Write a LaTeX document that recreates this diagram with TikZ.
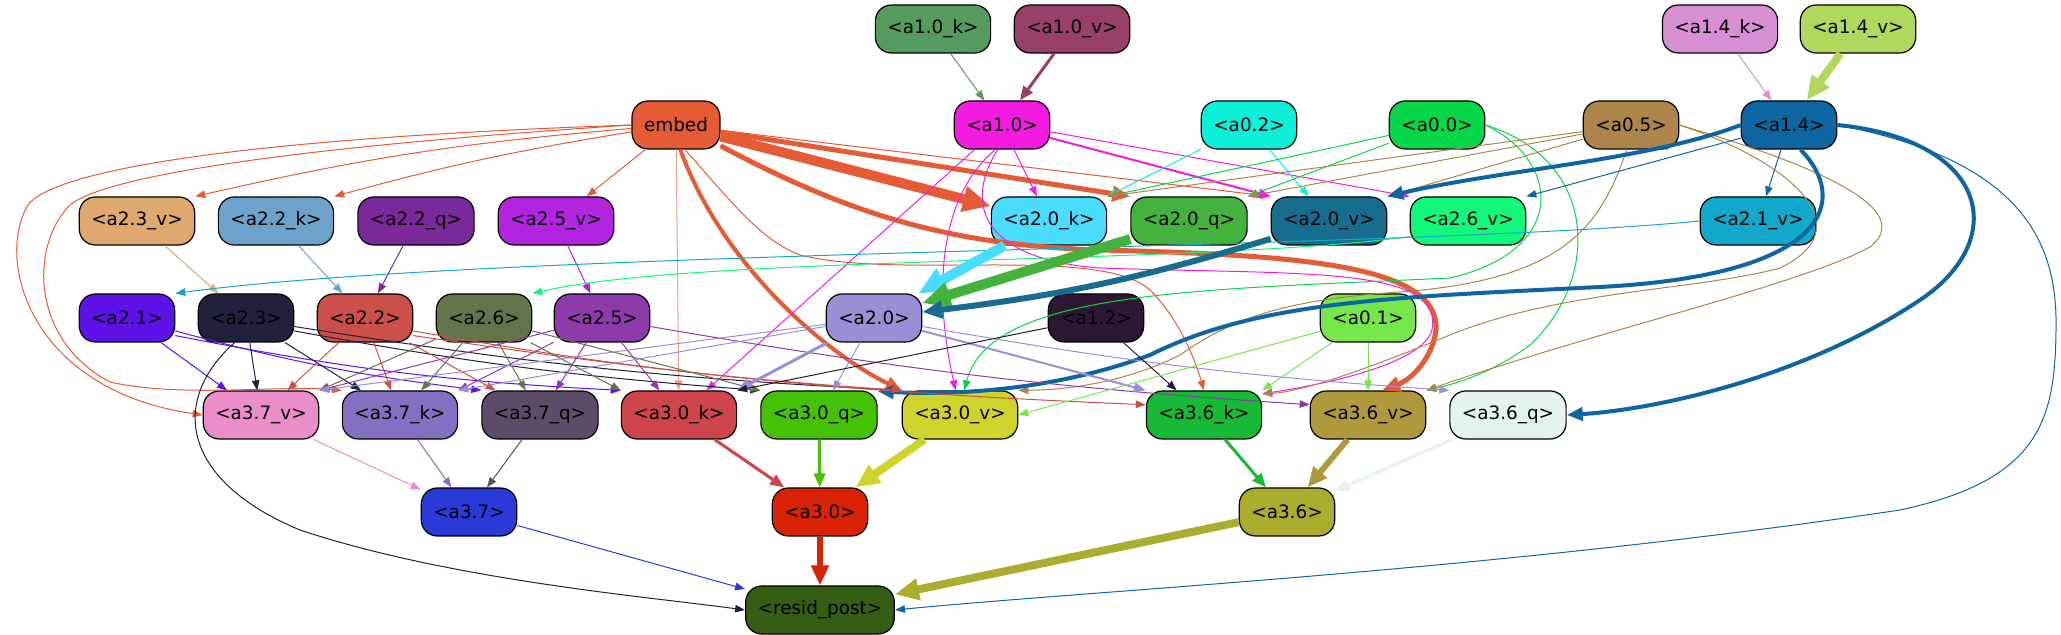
\documentclass[tikz,border=0pt]{standalone}
\usepackage{fontspec}
\setmainfont{DejaVu Sans}
\usetikzlibrary{arrows.meta}
\definecolor{cemb}{HTML}{E55B35}
\definecolor{c10k}{HTML}{559A5F}
\definecolor{c10v}{HTML}{98406A}
\definecolor{c10}{HTML}{F41BE0}
\definecolor{c02}{HTML}{0CEFD8}
\definecolor{c00}{HTML}{06D748}
\definecolor{c05}{HTML}{AD854B}
\definecolor{c14}{HTML}{0D66A2}
\definecolor{c14k}{HTML}{D88ED2}
\definecolor{c14v}{HTML}{B0D85C}
\definecolor{c23v}{HTML}{DFA86E}
\definecolor{c22k}{HTML}{6DA3CB}
\definecolor{c22q}{HTML}{79299A}
\definecolor{c25v}{HTML}{B224E0}
\definecolor{c20k}{HTML}{4ADCFC}
\definecolor{c20q}{HTML}{43B33D}
\definecolor{c20v}{HTML}{176D8E}
\definecolor{c26v}{HTML}{11F87B}
\definecolor{c21v}{HTML}{12A8CB}
\definecolor{c21}{HTML}{5E12E8}
\definecolor{c23}{HTML}{22213C}
\definecolor{c22}{HTML}{CA5049}
\definecolor{c26}{HTML}{63744B}
\definecolor{c25}{HTML}{8D3AAB}
\definecolor{c20}{HTML}{9A8FD5}
\definecolor{c12}{HTML}{2E1733}
\definecolor{c01}{HTML}{76E64B}
\definecolor{c37v}{HTML}{EA8DC8}
\definecolor{c37k}{HTML}{8370C0}
\definecolor{c37q}{HTML}{5C4C68}
\definecolor{c30k}{HTML}{CE454B}
\definecolor{c30q}{HTML}{45C205}
\definecolor{c30v}{HTML}{CED42C}
\definecolor{c36k}{HTML}{16BA37}
\definecolor{c36v}{HTML}{AE993C}
\definecolor{c36q}{HTML}{E4F3EC}
\definecolor{c37}{HTML}{2A3AD8}
\definecolor{c30}{HTML}{DA2306}
\definecolor{c36}{HTML}{AAAD2E}
\definecolor{cres}{HTML}{375D14}

\begin{document}
\begin{tikzpicture}[x=0.5pt,y=-0.5pt,>={Triangle[length=4pt 2,width=2.8pt 1.9]},
  box/.style={draw=black,line width=0.6pt,rounded corners=8pt,minimum height=24pt,inner xsep=6pt,inner ysep=0pt,font=\fontsize{9.2pt}{11pt}\selectfont},
  ed/.style={->,line width=#1},ed/.default=0.5pt]
\useasboundingbox (0,0) rectangle (2061,635);
% top rows
\node[box,fill=c10k] (a10k) at (933,29) {<a1.0\_k>};
\node[box,fill=c10v] (a10v) at (1072,29) {<a1.0\_v>};
\node[box,fill=c14k] (a14k) at (1720,29) {<a1.4\_k>};
\node[box,fill=c14v] (a14v) at (1858,29) {<a1.4\_v>};
\node[box,fill=cemb] (emb) at (676,125) {embed};
\node[box,fill=c10] (a10) at (1002,125) {<a1.0>};
\node[box,fill=c02] (a02) at (1249,125) {<a0.2>};
\node[box,fill=c00] (a00) at (1437,125) {<a0.0>};
\node[box,fill=c05] (a05) at (1631,125) {<a0.5>};
\node[box,fill=c14] (a14) at (1789,125) {<a1.4>};
% layer 2 inputs
\node[box,fill=c23v] (a23v) at (137,221) {<a2.3\_v>};
\node[box,fill=c22k] (a22k) at (276,221) {<a2.2\_k>};
\node[box,fill=c22q] (a22q) at (416,221) {<a2.2\_q>};
\node[box,fill=c25v] (a25v) at (556,221) {<a2.5\_v>};
\node[box,fill=c20k] (a20k) at (1049,221) {<a2.0\_k>};
\node[box,fill=c20q] (a20q) at (1189,221) {<a2.0\_q>};
\node[box,fill=c20v] (a20v) at (1329,221) {<a2.0\_v>};
\node[box,fill=c26v] (a26v) at (1468,221) {<a2.6\_v>};
\node[box,fill=c21v] (a21v) at (1758,221) {<a2.1\_v>};
% layer 2 heads
\node[box,fill=c21] (a21) at (127,318) {<a2.1>};
\node[box,fill=c23] (a23) at (246,318) {<a2.3>};
\node[box,fill=c22] (a22) at (365,318) {<a2.2>};
\node[box,fill=c26] (a26) at (484,318) {<a2.6>};
\node[box,fill=c25] (a25) at (602,318) {<a2.5>};
\node[box,fill=c20] (a20) at (874,318) {<a2.0>};
\node[box,fill=c12] (a12) at (1096,318) {<a1.2>};
\node[box,fill=c01] (a01) at (1368,318) {<a0.1>};
% layer 3 inputs
\node[box,fill=c37v] (a37v) at (261,415) {<a3.7\_v>};
\node[box,fill=c37k] (a37k) at (400,415) {<a3.7\_k>};
\node[box,fill=c37q] (a37q) at (540,415) {<a3.7\_q>};
\node[box,fill=c30k] (a30k) at (679,415) {<a3.0\_k>};
\node[box,fill=c30q] (a30q) at (819,415) {<a3.0\_q>};
\node[box,fill=c30v] (a30v) at (960,415) {<a3.0\_v>};
\node[box,fill=c36k] (a36k) at (1204,415) {<a3.6\_k>};
\node[box,fill=c36v] (a36v) at (1368,415) {<a3.6\_v>};
\node[box,fill=c36q] (a36q) at (1508,415) {<a3.6\_q>};
\node[box,fill=c37] (a37) at (469,512) {<a3.7>};
\node[box,fill=c30] (a30) at (820,512) {<a3.0>};
\node[box,fill=c36] (a36) at (1287,512) {<a3.6>};
\node[box,fill=cres] (resid) at (820,610) {<resid\_post>};
% into layer 1 heads
\draw[ed,c10k] (a10k) -- (a10);
\draw[ed=1.5pt,c10v] (a10v) -- (a10);
\draw[ed,c14k] (a14k) -- (a14);
\draw[ed=4pt,c14v] (a14v) -- (a14);
% from embed
\draw[ed,cemb] (emb) to[bend right=4] (a23v.north east);
\draw[ed,cemb] (emb) to[bend right=3] (a22k.north east);
\draw[ed,cemb] (emb) -- (a25v);
\draw[ed,cemb] (emb.west) .. controls (200,140) and (50,175) .. (28,205) .. controls (-5,260) and (30,390) .. (a37v.west);
\draw[ed,cemb] (emb.west) .. controls (250,150) and (100,180) .. (70,205) .. controls (30,245) and (30,340) .. (110,382) .. controls (180,398) and (280,385) .. (a37k.north west);
\draw[ed,cemb!60] (emb) -- (a30k);
\draw[ed=2pt,cemb] (emb.-80) .. controls (720,260) and (820,350) .. (a30v.north west);
\draw[ed=5pt,cemb] (emb) -- (a20k);
\draw[ed=2.5pt,cemb] (emb) -- (a20q.north west);
\draw[ed,cemb] (emb) -- (a20v.north west);
\draw[ed=2.5pt,cemb] (emb.-25) .. controls (850,215) and (950,245) .. (1100,250) .. controls (1300,255) and (1440,265) .. (1436,330) .. controls (1432,360) and (1410,380) .. (a36v.60);
\draw[ed,cemb] (emb.-70) .. controls (730,200) and (760,240) .. (800,255) .. controls (900,280) and (1100,245) .. (1150,290) .. controls (1180,320) and (1195,360) .. (a36k.north);
% from a1.0
\draw[ed,c10] (a10) -- (a20k);
\draw[ed=1pt,c10] (a10.-15) -- (a20v.north west);
\draw[ed,c10] (a10.-8) -- (a26v.north west);
\draw[ed,c10] (a10) -- (a30k);
\draw[ed,c10] (a10.-105) .. controls (935,200) and (935,300) .. (a30v.100);
\draw[ed,c10] (a10.-100) .. controls (960,210) and (990,260) .. (1100,268) .. controls (1300,275) and (1445,265) .. (1432,330) .. controls (1422,365) and (1320,385) .. (a36k.20);
% from a0.2, a0.0, a0.5
\draw[ed,c02] (a02) -- (a20k.north east);
\draw[ed,c02] (a02) -- (a20v);
\draw[ed,c00] (a00) -- (a20k.north east);
\draw[ed,c00] (a00) -- (a20q.north east);
\draw[ed,c00] (a00.east) .. controls (1560,160) and (1570,250) .. (1450,278) .. controls (1200,290) and (990,290) .. (a30v.80);
\draw[ed,c00] (a00.east) .. controls (1600,160) and (1600,280) .. (1530,345) .. controls (1490,375) and (1450,385) .. (a36v.north east);
\draw[ed,c05] (a05) -- (a20k.north east);
\draw[ed,c05] (a05) -- (a20q.north east);
\draw[ed,c05] (a05) -- (a20v.north east);
\draw[ed,c05] (a05.-100) .. controls (1600,230) and (1560,280) .. (1400,292) .. controls (1280,300) and (1230,320) .. (1180,355) .. controls (1120,385) and (1060,390) .. (a30v.north east);
\draw[ed,c05] (a05.east) .. controls (1800,165) and (1860,230) .. (1780,268) .. controls (1700,290) and (1560,290) .. (1450,335) .. controls (1360,372) and (1300,392) .. (a36k.20);
\draw[ed,c05] (a05.east) .. controls (1850,175) and (1910,215) .. (1870,247) .. controls (1800,285) and (1600,330) .. (a36v.north east);
% from a1.4
\draw[ed=2pt,c14] (a14.west) .. controls (1650,160) and (1500,170) .. (a20v.north east);
\draw[ed,c14] (a14) -- (a26v.north east);
\draw[ed,c14] (a14) -- (a21v);
\draw[ed=2pt,c14] (a14.-65) .. controls (1850,200) and (1830,275) .. (1600,287) .. controls (1400,297) and (1260,300) .. (1150,355) .. controls (1050,392) and (950,395) .. (a30q.22);
\draw[ed=2pt,c14] (a14.east) .. controls (1990,140) and (2010,240) .. (1920,300) .. controls (1800,380) and (1650,410) .. (a36q.east);
\draw[ed,c14] (a14.east) .. controls (2020,160) and (2058,240) .. (2056,330) .. controls (2055,420) and (2040,480) .. (1900,510) .. controls (1500,570) and (1100,590) .. (resid.east);
% layer 2 inputs to heads
\draw[ed,c23v] (a23v) -- (a23);
\draw[ed,c22k] (a22k) -- (a22);
\draw[ed,c22q] (a22q) -- (a22);
\draw[ed,c25v] (a25v) -- (a25);
\draw[ed,c26v] (a26v.-165) .. controls (1200,265) and (700,255) .. (a26.north east);
\draw[ed,c21v] (a21v.west) .. controls (1400,250) and (500,250) .. (a21.north east);
\draw[ed=5pt,c20k] (a20k) -- (a20);
\draw[ed=5pt,c20q] (a20q) -- (a20);
\draw[ed=3pt,c20v] (a20v) to[bend left=5] (a20);
% layer 2 heads to layer 3 inputs
\draw[ed,c21] (a21) -- (a37v);
\draw[ed,c21] (a21.-15) to[bend right=4] (a37q.north west);
\draw[ed,c21] (a21.-20) to[bend right=4] (a30k.north west);
\draw[ed,c23] (a23) -- (a37v);
\draw[ed,c23] (a23) -- (a37k);
\draw[ed,c23] (a23.-15) to[bend right=3] (a30q.north west);
\draw[ed,c23] (a23.-10) to[bend right=3] (a30v.north west);
\draw[ed,c23] (a23.-115) .. controls (170,400) and (180,480) .. (300,530) .. controls (450,580) and (650,597) .. (resid.west);
\draw[ed,c22] (a22) -- (a37v);
\draw[ed,c22] (a22) -- (a37k);
\draw[ed,c22] (a22) -- (a37q);
\draw[ed,c22] (a22.-15) to[bend right=3] (a30v.north west);
\draw[ed,c22] (a22.-20) to[bend right=3] (a36k.170);
\draw[ed,c26] (a26) -- (a37v.north east);
\draw[ed,c26] (a26) -- (a37k);
\draw[ed,c26] (a26) -- (a37q);
\draw[ed,c26] (a26) -- (a30k.north west);
\draw[ed,c26] (a26.-15) -- (a30q.north west);
\draw[ed,c25] (a25) -- (a37v.north east);
\draw[ed,c25] (a25) -- (a37k.north east);
\draw[ed,c25] (a25) -- (a37q);
\draw[ed,c25] (a25) -- (a30k);
\draw[ed,c25] (a25.-10) to[bend right=3] (a36v.170);
\draw[ed,c20] (a20) -- (a37v.north east);
\draw[ed,c20] (a20) -- (a37k.north east);
\draw[ed=1.5pt,c20] (a20) -- (a30k.north east);
\draw[ed,c20] (a20) -- (a30q);
\draw[ed=1pt,c20] (a20) -- (a36k.north west);
\draw[ed,c20] (a20.-10) to[bend right=3] (a36q.north west);
\draw[ed,c12] (a12) -- (a30k.north east);
\draw[ed,c12] (a12) -- (a36k);
\draw[ed,c01] (a01) -- (a30v.east);
\draw[ed,c01] (a01) -- (a36k.north east);
\draw[ed,c01] (a01) -- (a36v);
% layer 3 and output
\draw[ed,c37v] (a37v) -- (a37);
\draw[ed,c37k] (a37k) -- (a37);
\draw[ed,c37q] (a37q) -- (a37);
\draw[ed=1.5pt,c30k] (a30k) -- (a30);
\draw[ed=1.5pt,c30q] (a30q) -- (a30);
\draw[ed=4pt,c30v] (a30v) -- (a30);
\draw[ed=1.5pt,c36k] (a36k) -- (a36);
\draw[ed=3pt,c36v] (a36v) -- (a36);
\draw[ed=1.5pt,c36q] (a36q) -- (a36);
\draw[ed,c37] (a37) -- (resid);
\draw[ed=3pt,c30] (a30) -- (resid);
\draw[ed=4pt,c36] (a36) -- (resid);
\end{tikzpicture}
\end{document}
